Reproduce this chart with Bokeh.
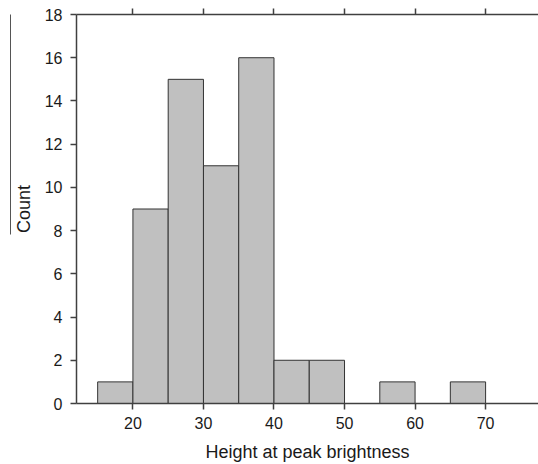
from bokeh.plotting import figure
from bokeh.models import LinearAxis, FixedTicker, Range1d
from bokeh.embed import file_html
from bokeh.resources import INLINE

# Histogram data: bin edges (width 5) and counts
bin_left = [15, 20, 25, 30, 35, 40, 45, 50, 55, 60, 65]
bin_right = [20, 25, 30, 35, 40, 45, 50, 55, 60, 65, 70]
counts = [1, 9, 15, 11, 16, 2, 2, 0, 1, 0, 1]
x_ticks = [20, 30, 40, 50, 60, 70]
y_ticks = [0, 2, 4, 6, 8, 10, 12, 14, 16, 18]
x_label = "Height at peak brightness"
y_label = "Count"

FONT = "Liberation Sans"
AX = "#404040"
TXT = "#1a1a1a"

p = figure(width=538, height=464, x_range=Range1d(12.0, 77.5), y_range=Range1d(0, 18),
           output_backend="svg", toolbar_location=None,
           min_border_left=76, min_border_right=0, min_border_top=14, min_border_bottom=60)
p.outline_line_color = None
p.xgrid.visible = False
p.ygrid.visible = False
p.background_fill_color = "white"
p.border_fill_color = "white"

L = [l for l, c in zip(bin_left, counts) if c > 0]
R = [r for r, c in zip(bin_right, counts) if c > 0]
T = [c for c in counts if c > 0]
p.quad(left=L, right=R, bottom=0, top=T, fill_color="#c0c0c0", line_color="#333333", line_width=1)

def style(ax):
    ax.axis_line_color = AX
    ax.axis_line_width = 1.5
    ax.major_tick_line_color = AX
    ax.major_tick_line_width = 1.5
    ax.minor_tick_line_color = None
    ax.major_tick_in = 0
    ax.major_tick_out = 6
    ax.major_label_text_font = FONT
    ax.major_label_text_font_size = "16px"
    ax.major_label_text_color = TXT
    ax.axis_label_text_font = FONT
    ax.axis_label_text_font_size = "18px"
    ax.axis_label_text_font_style = "normal"
    ax.axis_label_text_color = TXT

xa = p.xaxis[0]
style(xa)
xa.ticker = FixedTicker(ticks=x_ticks)
xa.major_label_standoff = 7
xa.axis_label = x_label
xa.axis_label_standoff = 10

ya = p.yaxis[0]
style(ya)
ya.ticker = FixedTicker(ticks=y_ticks)
ya.major_label_standoff = 8
ya.axis_label = y_label
ya.axis_label_standoff = 8

top = LinearAxis(ticker=FixedTicker(ticks=x_ticks))
style(top)
top.major_label_overrides = {t: "" for t in x_ticks}
top.major_label_text_font_size = "1px"
top.major_label_standoff = 0
p.add_layout(top, "above")

# thin rule to the left of the "Count" title
extra = LinearAxis(ticker=FixedTicker(ticks=[]), bounds=(7.8, 18.28))
extra.axis_line_color = "#555555"
extra.axis_line_width = 1
extra.major_tick_out = 0
extra.major_tick_in = 0
extra.minor_tick_out = 0
extra.minor_tick_in = 0
extra.major_label_text_font_size = "1px"
extra.major_label_standoff = 0
p.add_layout(extra, "left")

open("out.html", "w").write(file_html(p, INLINE))
